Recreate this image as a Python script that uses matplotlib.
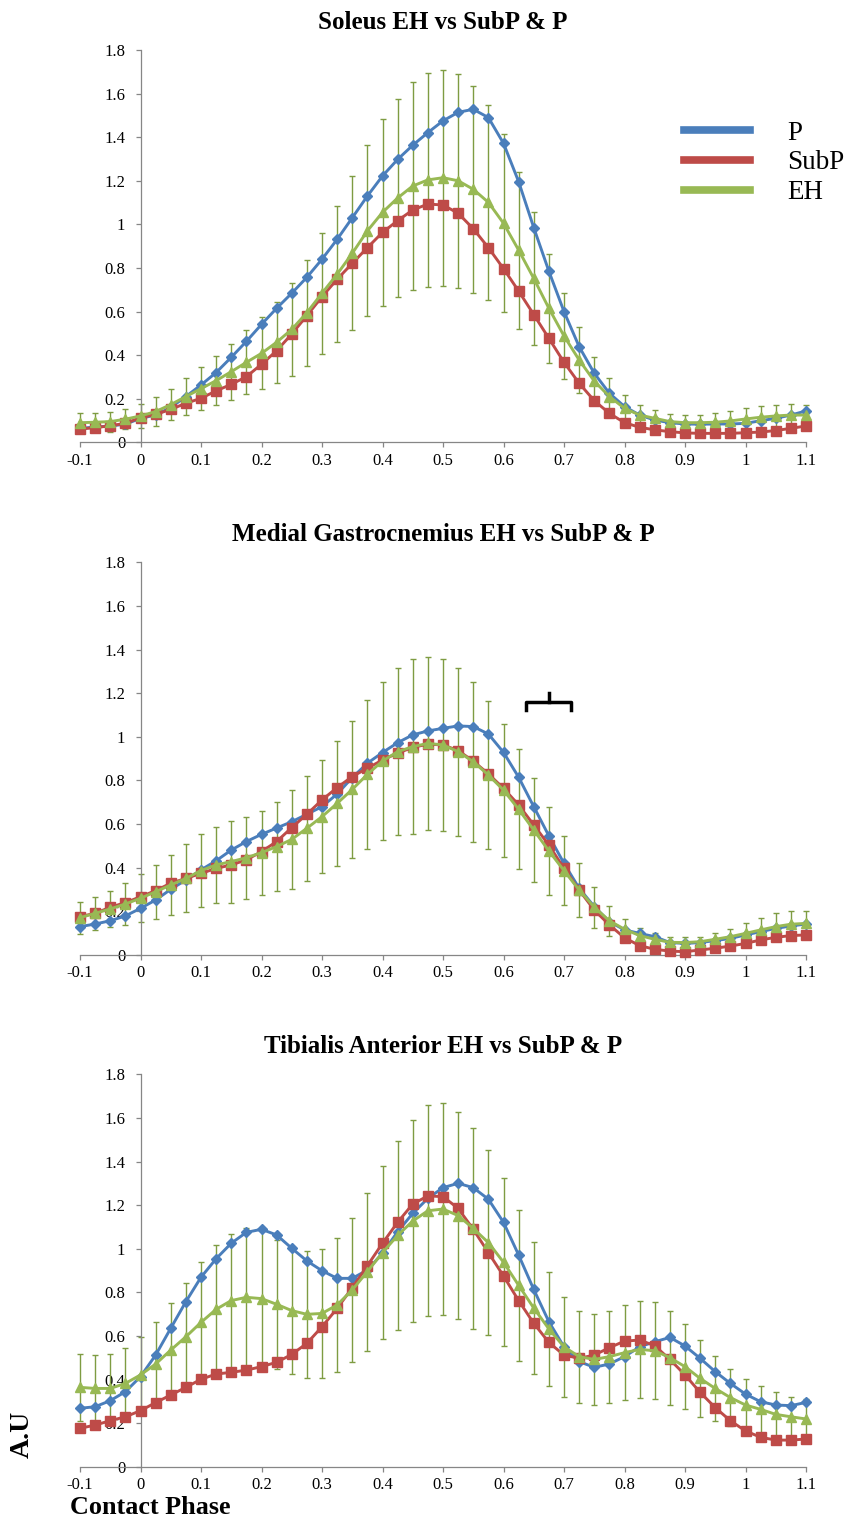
import numpy as np
import matplotlib
matplotlib.use("Agg")
import matplotlib.pyplot as plt
from matplotlib.lines import Line2D

plt.rcParams['font.family'] = ['Liberation Serif', 'DejaVu Serif']

# ---------------- data ----------------
phase = [round(-0.1 + 0.025 * i, 3) for i in range(49)]

titles = ["Soleus EH vs SubP & P",
          "Medial Gastrocnemius EH vs SubP & P",
          "Tibialis Anterior EH vs SubP & P"]
series_names = ["P", "SubP", "EH"]

sol_P = [0.064, 0.07, 0.075, 0.083, 0.11, 0.125, 0.16, 0.21, 0.263, 0.32, 0.39, 0.463, 0.541,
         0.615, 0.684, 0.757, 0.84, 0.931, 1.03, 1.13, 1.222, 1.298, 1.363, 1.421, 1.475, 1.514,
         1.528, 1.49, 1.372, 1.196, 0.985, 0.785, 0.6, 0.439, 0.317, 0.225, 0.164, 0.125, 0.102,
         0.09, 0.084, 0.083, 0.084, 0.084, 0.087, 0.099, 0.11, 0.125, 0.144]
sol_SubP = [0.061, 0.067, 0.076, 0.087, 0.113, 0.128, 0.151, 0.179, 0.202, 0.236, 0.266, 0.301,
            0.358, 0.42, 0.497, 0.581, 0.668, 0.748, 0.821, 0.893, 0.963, 1.017, 1.066, 1.093,
            1.089, 1.051, 0.98, 0.893, 0.797, 0.694, 0.586, 0.477, 0.367, 0.271, 0.191, 0.133,
            0.09, 0.069, 0.057, 0.049, 0.043, 0.041, 0.041, 0.041, 0.044, 0.047, 0.054, 0.064, 0.075]
sol_EH = [0.09, 0.092, 0.095, 0.106, 0.121, 0.141, 0.173, 0.21, 0.246, 0.283, 0.324, 0.367, 0.408,
          0.459, 0.518, 0.595, 0.684, 0.771, 0.867, 0.97, 1.055, 1.121, 1.176, 1.204, 1.214, 1.2,
          1.161, 1.101, 1.005, 0.882, 0.752, 0.615, 0.488, 0.378, 0.281, 0.21, 0.156, 0.125, 0.11,
          0.095, 0.09, 0.09, 0.092, 0.098, 0.107, 0.115, 0.121, 0.125, 0.125]
sol_EH_sd = [0.046, 0.044, 0.046, 0.047, 0.055, 0.065, 0.072, 0.085, 0.098, 0.114, 0.128, 0.147,
             0.165, 0.187, 0.214, 0.243, 0.277, 0.312, 0.354, 0.392, 0.428, 0.456, 0.477, 0.492,
             0.496, 0.49, 0.476, 0.447, 0.409, 0.36, 0.305, 0.25, 0.198, 0.152, 0.111, 0.083,
             0.063, 0.048, 0.038, 0.035, 0.035, 0.035, 0.041, 0.046, 0.049, 0.053, 0.052, 0.051, 0.048]

mg_P = [0.13, 0.142, 0.157, 0.179, 0.214, 0.252, 0.301, 0.344, 0.39, 0.432, 0.481, 0.52, 0.553,
        0.582, 0.611, 0.645, 0.68, 0.738, 0.813, 0.879, 0.928, 0.973, 1.009, 1.027, 1.039, 1.05,
        1.047, 1.013, 0.929, 0.815, 0.68, 0.546, 0.42, 0.306, 0.222, 0.153, 0.115, 0.099, 0.084,
        0.057, 0.053, 0.057, 0.066, 0.076, 0.092, 0.107, 0.122, 0.133, 0.142]
mg_SubP = [0.176, 0.191, 0.219, 0.24, 0.267, 0.295, 0.329, 0.351, 0.374, 0.397, 0.413, 0.436,
           0.474, 0.52, 0.584, 0.645, 0.711, 0.767, 0.818, 0.856, 0.894, 0.925, 0.952, 0.966,
           0.963, 0.937, 0.889, 0.83, 0.764, 0.688, 0.596, 0.504, 0.397, 0.298, 0.206, 0.138,
           0.079, 0.043, 0.026, 0.018, 0.015, 0.023, 0.031, 0.041, 0.053, 0.069, 0.081, 0.089, 0.092]
mg_EH = [0.171, 0.191, 0.211, 0.234, 0.26, 0.29, 0.321, 0.351, 0.387, 0.413, 0.428, 0.446, 0.469,
         0.497, 0.53, 0.581, 0.634, 0.695, 0.759, 0.828, 0.889, 0.932, 0.955, 0.97, 0.963, 0.932,
         0.886, 0.825, 0.756, 0.668, 0.573, 0.477, 0.387, 0.298, 0.219, 0.157, 0.118, 0.089,
         0.072, 0.058, 0.057, 0.061, 0.072, 0.084, 0.099, 0.115, 0.13, 0.141, 0.145]
mg_EH_sd = [0.074, 0.076, 0.084, 0.095, 0.11, 0.123, 0.137, 0.156, 0.168, 0.175, 0.188, 0.188,
            0.193, 0.203, 0.226, 0.24, 0.26, 0.288, 0.315, 0.341, 0.364, 0.382, 0.4, 0.398,
            0.394, 0.385, 0.366, 0.341, 0.305, 0.275, 0.24, 0.201, 0.159, 0.122, 0.094, 0.069,
            0.046, 0.033, 0.027, 0.026, 0.024, 0.023, 0.03, 0.037, 0.046, 0.053, 0.061, 0.061, 0.058]

ta_P = [0.268, 0.275, 0.303, 0.344, 0.413, 0.512, 0.635, 0.757, 0.869, 0.954, 1.025, 1.075, 1.089,
        1.063, 1.002, 0.944, 0.899, 0.864, 0.864, 0.902, 0.979, 1.078, 1.162, 1.231, 1.28, 1.3,
        1.28, 1.227, 1.121, 0.971, 0.813, 0.665, 0.55, 0.482, 0.456, 0.471, 0.505, 0.55, 0.573,
        0.593, 0.554, 0.497, 0.436, 0.382, 0.333, 0.298, 0.283, 0.28, 0.295]
ta_SubP = [0.176, 0.191, 0.211, 0.229, 0.257, 0.294, 0.329, 0.364, 0.401, 0.425, 0.433, 0.443,
           0.459, 0.479, 0.515, 0.566, 0.642, 0.726, 0.821, 0.922, 1.025, 1.121, 1.205, 1.242,
           1.239, 1.185, 1.089, 0.982, 0.875, 0.762, 0.658, 0.57, 0.512, 0.497, 0.512, 0.546,
           0.576, 0.581, 0.555, 0.492, 0.421, 0.341, 0.271, 0.211, 0.164, 0.135, 0.122, 0.122, 0.127]
ta_EH = [0.364, 0.359, 0.359, 0.382, 0.421, 0.471, 0.535, 0.596, 0.662, 0.722, 0.762, 0.777,
         0.771, 0.745, 0.716, 0.699, 0.703, 0.742, 0.811, 0.895, 0.982, 1.061, 1.127, 1.174,
         1.182, 1.152, 1.093, 1.028, 0.938, 0.832, 0.728, 0.632, 0.55, 0.505, 0.492, 0.505,
         0.523, 0.538, 0.532, 0.5, 0.459, 0.405, 0.359, 0.317, 0.283, 0.263, 0.24, 0.229, 0.219]
ta_EH_sd = [0.153, 0.153, 0.158, 0.161, 0.175, 0.194, 0.214, 0.248, 0.276, 0.293, 0.307, 0.319,
            0.315, 0.295, 0.293, 0.292, 0.294, 0.306, 0.331, 0.362, 0.397, 0.433, 0.463, 0.485,
            0.486, 0.474, 0.462, 0.423, 0.385, 0.346, 0.304, 0.26, 0.23, 0.211, 0.207, 0.211,
            0.219, 0.224, 0.222, 0.216, 0.196, 0.176, 0.15, 0.13, 0.118, 0.109, 0.104, 0.092, 0.09]

panels = [
    (sol_P, sol_SubP, sol_EH, sol_EH_sd),
    (mg_P, mg_SubP, mg_EH, mg_EH_sd),
    (ta_P, ta_SubP, ta_EH, ta_EH_sd),
]

x_ticks = [-0.1, 0, 0.1, 0.2, 0.3, 0.4, 0.5, 0.6, 0.7, 0.8, 0.9, 1, 1.1]
x_labels = ["-0.1", "0", "0.1", "0.2", "0.3", "0.4", "0.5", "0.6", "0.7", "0.8", "0.9", "1", "1.1"]
y_ticks = [0, 0.2, 0.4, 0.6, 0.8, 1.0, 1.2, 1.4, 1.6, 1.8]
y_labels = ["0", "0.2", "0.4", "0.6", "0.8", "1", "1.2", "1.4", "1.6", "1.8"]

# bracket in the middle panel (x positions, y levels)
bracket_x = [0.637, 0.712]
bracket_mid = 0.675
bracket_y = [1.122, 1.16, 1.2]

# ---------------- styling ----------------
c_P = '#4A7EBB'
c_S = '#BE4B48'
c_E = '#98B954'
c_err = '#7E9C42'
axis_col = '#868686'

W, H = 846, 1521
fig = plt.figure(figsize=(W / 100, H / 100), dpi=100)

left = 80 / W
width = 726 / W
tops = [50, 562.3, 1074.3]
bottoms = [442.3, 955, 1466.7]

for i, (P, S, E, sd) in enumerate(panels):
    ax = fig.add_axes([left, 1 - bottoms[i] / H, width, (bottoms[i] - tops[i]) / H])
    ax.set_xlim(-0.1, 1.1)
    ax.set_ylim(0, 1.8)
    ax.errorbar(phase, E, yerr=sd, fmt='none', ecolor=c_err, elinewidth=1.0,
                capsize=2.5, capthick=1.0, zorder=2, clip_on=False)
    ax.plot(phase, P, color=c_P, lw=2.1, marker='D', ms=5.5, mec=c_P, mfc=c_P,
            zorder=3, clip_on=False)
    ax.plot(phase, S, color=c_S, lw=2.1, marker='s', ms=6.5, mec=c_S, mfc=c_S,
            zorder=4, clip_on=False)
    ax.plot(phase, E, color=c_E, lw=2.1, marker='^', ms=7, mec=c_E, mfc=c_E,
            zorder=5, clip_on=False)

    for s in ['top', 'right']:
        ax.spines[s].set_visible(False)
    ax.spines['left'].set_position(('data', 0))
    ax.spines['left'].set_color(axis_col)
    ax.spines['bottom'].set_color(axis_col)
    ax.spines['left'].set_linewidth(0.9)
    ax.spines['bottom'].set_linewidth(0.9)
    ax.set_xticks(x_ticks)
    ax.set_xticklabels(x_labels)
    ax.set_yticks(y_ticks)
    ax.set_yticklabels(y_labels)
    ax.tick_params(axis='both', colors=axis_col, labelcolor='black', labelsize=12,
                   length=3.5, width=0.9, direction='out')
    ax.tick_params(axis='y', pad=7.5)
    ax.tick_params(axis='x', pad=4)
    ax.set_title(titles[i], fontsize=18, fontweight='bold', pad=15)

    if i == 0:
        handles = [Line2D([], [], color=c, lw=5.5) for c in (c_P, c_S, c_E)]
        ax.legend(handles, series_names, loc='upper left', bbox_to_anchor=(0.832, 0.82),
                  frameon=False, fontsize=19.5, handlelength=2.45, handletextpad=1.35,
                  labelspacing=0.18, borderaxespad=0, borderpad=0)
    if i == 1:
        ax.plot([bracket_x[0], bracket_x[0], bracket_x[1], bracket_x[1]],
                [bracket_y[0], bracket_y[1], bracket_y[1], bracket_y[0]],
                color='black', lw=2.5, solid_joinstyle='round', zorder=6)
        ax.plot([bracket_mid, bracket_mid], [bracket_y[1], bracket_y[2]],
                color='black', lw=2.5, zorder=6)

fig.text(22 / W, 1 - 1434 / H, "A.U", rotation=90, fontsize=20, fontweight='bold',
         ha='center', va='center')
fig.text(70 / W, 1 - 1508 / H, "Contact Phase", fontsize=18.8, fontweight='bold',
         ha='left', va='center')

fig.savefig("out.png", dpi=100)
